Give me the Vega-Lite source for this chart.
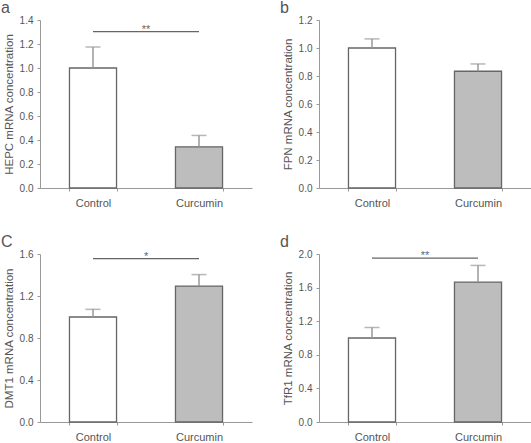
{
  "$schema": "https://vega.github.io/schema/vega-lite/v6.json",
  "padding": {"left": 1, "top": 0, "right": 1, "bottom": 0},
  "config": {
    "font": "Liberation Sans",
    "view": {"stroke": null},
    "axis": {
      "grid": false,
      "domainColor": "#999999",
      "tickColor": "#999999",
      "labelColor": "#555555",
      "titleColor": "#555555",
      "labelFontSize": 10,
      "titleFontSize": 11.5,
      "titleFontWeight": "normal",
      "tickSize": 3,
      "labelOverlap": false
    },
    "title": {"fontSize": 16, "fontWeight": "normal", "color": "#555555", "anchor": "start", "frame": "bounds", "dx": -2, "offset": -1}
  },
  "spacing": {"row": 26, "column": 28},
  "columns": 2,
  "datasets": {
    "hepc": [
      {"group": "Control", "mean": 1.0, "upper": 1.175},
      {"group": "Curcumin", "mean": 0.343, "upper": 0.438}
    ],
    "fpn": [
      {"group": "Control", "mean": 1.0, "upper": 1.065},
      {"group": "Curcumin", "mean": 0.834, "upper": 0.886}
    ],
    "dmt1": [
      {"group": "Control", "mean": 1.0, "upper": 1.073},
      {"group": "Curcumin", "mean": 1.295, "upper": 1.404}
    ],
    "tfr1": [
      {"group": "Control", "mean": 1.0, "upper": 1.125},
      {"group": "Curcumin", "mean": 1.666, "upper": 1.864}
    ],
    "sig_a": [{"from": "Control", "to": "Curcumin", "y": 1.303, "label": "**"}],
    "sig_c": [{"from": "Control", "to": "Curcumin", "y": 1.556, "label": "*"}],
    "sig_d": [{"from": "Control", "to": "Curcumin", "y": 1.95, "label": "**"}]
  },
  "concat": [
    {
      "title": "a",
      "width": 212,
      "height": 168,
      "layer": [
        {
          "data": {"name": "hepc"},
          "mark": {"type": "bar", "stroke": "#666666", "strokeWidth": 1.3},
          "encoding": {
            "x": {"field": "group", "type": "nominal", "scale": {"paddingInner": 0.556, "paddingOuter": 0.278}, "axis": {"title": null, "labelAngle": 0, "labelFontSize": 11, "labelPadding": 6, "tickBand": "extent"}},
            "y": {"field": "mean", "type": "quantitative", "scale": {"domain": [0, 1.4], "nice": false}, "axis": {"title": "HEPC mRNA concentration", "values": [0, 0.2, 0.4, 0.6, 0.8, 1.0, 1.2, 1.4], "tickCount": 20, "format": ".1f", "labelPadding": 4, "titlePadding": 5, "labelOverlap": false}},
            "fill": {"field": "group", "type": "nominal", "scale": {"domain": ["Control", "Curcumin"], "range": ["#ffffff", "#bdbdbd"]}, "legend": null}
          }
        },
        {
          "data": {"name": "hepc"},
          "mark": {"type": "rule", "color": "#999999", "strokeWidth": 1.5},
          "encoding": {"x": {"field": "group", "type": "nominal"}, "y": {"field": "mean", "type": "quantitative"}, "y2": {"field": "upper"}}
        },
        {
          "data": {"name": "hepc"},
          "mark": {"type": "tick", "color": "#999999", "size": 15, "thickness": 1.5},
          "encoding": {"x": {"field": "group", "type": "nominal"}, "y": {"field": "upper", "type": "quantitative"}}
        },
        {
          "data": {"name": "sig_a"},
          "mark": {"type": "rule", "color": "#666666", "strokeWidth": 1.2},
          "encoding": {"x": {"field": "from", "type": "nominal"}, "x2": {"field": "to"}, "y": {"field": "y", "type": "quantitative"}}
        },
        {
          "data": {"name": "sig_a"},
          "mark": {"type": "text", "color": "#666666", "fontSize": 11, "baseline": "alphabetic", "dy": 1},
          "encoding": {"x": {"field": "from", "type": "nominal", "bandPosition": 1.628}, "y": {"field": "y", "type": "quantitative"}, "text": {"field": "label"}}
        }
      ]
    },
    {
      "title": "b",
      "width": 212,
      "height": 168,
      "layer": [
        {
          "data": {"name": "fpn"},
          "mark": {"type": "bar", "stroke": "#666666", "strokeWidth": 1.3},
          "encoding": {
            "x": {"field": "group", "type": "nominal", "scale": {"paddingInner": 0.556, "paddingOuter": 0.278}, "axis": {"title": null, "labelAngle": 0, "labelFontSize": 11, "labelPadding": 6, "tickBand": "extent"}},
            "y": {"field": "mean", "type": "quantitative", "scale": {"domain": [0, 1.2], "nice": false}, "axis": {"title": "FPN mRNA concentration", "values": [0, 0.2, 0.4, 0.6, 0.8, 1.0, 1.2], "tickCount": 20, "format": ".1f", "labelPadding": 4, "titlePadding": 5, "labelOverlap": false}},
            "fill": {"field": "group", "type": "nominal", "scale": {"domain": ["Control", "Curcumin"], "range": ["#ffffff", "#bdbdbd"]}, "legend": null}
          }
        },
        {
          "data": {"name": "fpn"},
          "mark": {"type": "rule", "color": "#999999", "strokeWidth": 1.5},
          "encoding": {"x": {"field": "group", "type": "nominal"}, "y": {"field": "mean", "type": "quantitative"}, "y2": {"field": "upper"}}
        },
        {
          "data": {"name": "fpn"},
          "mark": {"type": "tick", "color": "#999999", "size": 15, "thickness": 1.5},
          "encoding": {"x": {"field": "group", "type": "nominal"}, "y": {"field": "upper", "type": "quantitative"}}
        }
      ]
    },
    {
      "title": "C",
      "width": 212,
      "height": 168,
      "layer": [
        {
          "data": {"name": "dmt1"},
          "mark": {"type": "bar", "stroke": "#666666", "strokeWidth": 1.3},
          "encoding": {
            "x": {"field": "group", "type": "nominal", "scale": {"paddingInner": 0.556, "paddingOuter": 0.278}, "axis": {"title": null, "labelAngle": 0, "labelFontSize": 11, "labelPadding": 6, "tickBand": "extent"}},
            "y": {"field": "mean", "type": "quantitative", "scale": {"domain": [0, 1.6], "nice": false}, "axis": {"title": "DMT1 mRNA concentration", "values": [0, 0.4, 0.8, 1.2, 1.6], "tickCount": 20, "format": ".1f", "labelPadding": 4, "titlePadding": 5, "labelOverlap": false}},
            "fill": {"field": "group", "type": "nominal", "scale": {"domain": ["Control", "Curcumin"], "range": ["#ffffff", "#bdbdbd"]}, "legend": null}
          }
        },
        {
          "data": {"name": "dmt1"},
          "mark": {"type": "rule", "color": "#999999", "strokeWidth": 1.5},
          "encoding": {"x": {"field": "group", "type": "nominal"}, "y": {"field": "mean", "type": "quantitative"}, "y2": {"field": "upper"}}
        },
        {
          "data": {"name": "dmt1"},
          "mark": {"type": "tick", "color": "#999999", "size": 15, "thickness": 1.5},
          "encoding": {"x": {"field": "group", "type": "nominal"}, "y": {"field": "upper", "type": "quantitative"}}
        },
        {
          "data": {"name": "sig_c"},
          "mark": {"type": "rule", "color": "#666666", "strokeWidth": 1.2},
          "encoding": {"x": {"field": "from", "type": "nominal"}, "x2": {"field": "to"}, "y": {"field": "y", "type": "quantitative"}}
        },
        {
          "data": {"name": "sig_c"},
          "mark": {"type": "text", "color": "#666666", "fontSize": 11, "baseline": "alphabetic", "dy": 1},
          "encoding": {"x": {"field": "from", "type": "nominal", "bandPosition": 1.628}, "y": {"field": "y", "type": "quantitative"}, "text": {"field": "label"}}
        }
      ]
    },
    {
      "title": "d",
      "width": 212,
      "height": 168,
      "layer": [
        {
          "data": {"name": "tfr1"},
          "mark": {"type": "bar", "stroke": "#666666", "strokeWidth": 1.3},
          "encoding": {
            "x": {"field": "group", "type": "nominal", "scale": {"paddingInner": 0.556, "paddingOuter": 0.278}, "axis": {"title": null, "labelAngle": 0, "labelFontSize": 11, "labelPadding": 6, "tickBand": "extent"}},
            "y": {"field": "mean", "type": "quantitative", "scale": {"domain": [0, 2.0], "nice": false}, "axis": {"title": "TfR1 mRNA concentration", "values": [0, 0.4, 0.8, 1.2, 1.6, 2.0], "tickCount": 20, "format": ".1f", "labelPadding": 4, "titlePadding": 5, "labelOverlap": false}},
            "fill": {"field": "group", "type": "nominal", "scale": {"domain": ["Control", "Curcumin"], "range": ["#ffffff", "#bdbdbd"]}, "legend": null}
          }
        },
        {
          "data": {"name": "tfr1"},
          "mark": {"type": "rule", "color": "#999999", "strokeWidth": 1.5},
          "encoding": {"x": {"field": "group", "type": "nominal"}, "y": {"field": "mean", "type": "quantitative"}, "y2": {"field": "upper"}}
        },
        {
          "data": {"name": "tfr1"},
          "mark": {"type": "tick", "color": "#999999", "size": 15, "thickness": 1.5},
          "encoding": {"x": {"field": "group", "type": "nominal"}, "y": {"field": "upper", "type": "quantitative"}}
        },
        {
          "data": {"name": "sig_d"},
          "mark": {"type": "rule", "color": "#666666", "strokeWidth": 1.2},
          "encoding": {"x": {"field": "from", "type": "nominal"}, "x2": {"field": "to"}, "y": {"field": "y", "type": "quantitative"}}
        },
        {
          "data": {"name": "sig_d"},
          "mark": {"type": "text", "color": "#666666", "fontSize": 11, "baseline": "alphabetic", "dy": 1},
          "encoding": {"x": {"field": "from", "type": "nominal", "bandPosition": 1.628}, "y": {"field": "y", "type": "quantitative"}, "text": {"field": "label"}}
        }
      ]
    }
  ]
}
